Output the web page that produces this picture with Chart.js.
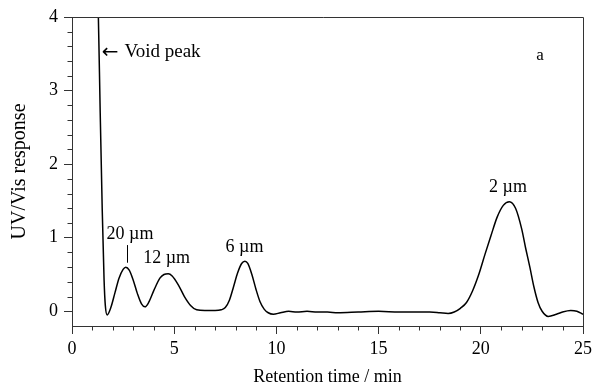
<!DOCTYPE html>
<html>
<head>
<meta charset="utf-8">
<script src="https://cdn.jsdelivr.net/npm/chart.js@4/dist/chart.umd.min.js"></script>
<style>
  html, body { margin: 0; padding: 0; background: #fff; }
  #wrap { width: 605px; height: 386px; position: relative; }
</style>
</head>
<body>
<div id="wrap"><canvas id="c"></canvas></div>
<script>
// ---- data ----
const timeMin = [1.22, 1.29, 1.38, 1.48, 1.57, 1.63, 1.72, 1.9, 2.1, 2.3, 2.5, 2.63, 2.8, 3.0, 3.2, 3.4, 3.57,
  3.75, 4.0, 4.3, 4.5, 4.71, 4.9, 5.2, 5.5, 5.8, 6.1, 6.5, 7.0, 7.3, 7.5, 7.7, 7.9, 8.1, 8.3, 8.46, 8.6,
  8.8, 9.0, 9.2, 9.4, 9.6, 9.85, 10.2, 10.6, 11.0, 11.5, 12.0, 12.5, 13.0, 14.0, 15.0, 16.0, 17.0, 17.5,
  18.0, 18.4, 18.7, 19.0, 19.3, 19.6, 19.9, 20.2, 20.5, 20.8, 21.1, 21.4, 21.7, 22.0, 22.2, 22.4, 22.6,
  22.8, 23.0, 23.3, 23.7, 24.0, 24.4, 24.7, 25.0];
const response = [4.6, 4.0, 2.7, 1.37, 0.42, 0.08, -0.05, 0.05, 0.25, 0.45, 0.57, 0.60, 0.56, 0.42, 0.24, 0.10, 0.06,
  0.12, 0.28, 0.45, 0.50, 0.51, 0.48, 0.36, 0.20, 0.08, 0.02, 0.01, 0.01, 0.02, 0.05, 0.15, 0.33, 0.52, 0.65, 0.68, 0.65,
  0.50, 0.30, 0.13, 0.03, -0.02, -0.04, -0.02, 0.00, -0.01, 0.00, -0.01, -0.01, -0.02, -0.01, 0.00, -0.01, -0.01, -0.01,
  -0.02, -0.03, -0.01, 0.04, 0.12, 0.28, 0.50, 0.77, 1.03, 1.28, 1.44, 1.49, 1.40, 1.12, 0.85, 0.60, 0.33,
  0.12, 0.00, -0.07, -0.04, -0.01, 0.01, 0.00, -0.04];

const xTicks = [0, 5, 10, 15, 20, 25];
const yTicks = [0, 1, 2, 3, 4];
const xMinorStep = 1;
const yMinorStep = 0.2;

const peakLabels = ['20 µm', '12 µm', '6 µm', '2 µm'];
const peakLabelX = [2.84, 4.63, 8.44, 21.33];
const peakLabelY = [1.05, 0.72, 0.87, 1.69];
const leaderX = 2.67, leaderY = [0.9, 0.66];
const voidArrow = '←';
const voidLabel = 'Void peak';
const voidLabelPos = [1.45, 3.52];
const panelLabel = 'a';
const panelLabelPos = [22.9, 3.48];

const FONT = '"Liberation Serif", "Times New Roman", serif';
const AXIS_COLOR = '#333';

const points = timeMin.map((t, i) => ({ x: t, y: response[i] }));

const framePlugin = {
  id: 'frame',
  afterDraw(chart) {
    const { ctx, chartArea: a, scales: { x, y } } = chart;
    ctx.save();
    ctx.strokeStyle = AXIS_COLOR;
    ctx.lineWidth = 1;
    // top and right border
    ctx.beginPath();
    ctx.moveTo(a.left - 8, Math.round(a.top) + 0.5);
    ctx.lineTo(Math.round(a.right) + 0.5, Math.round(a.top) + 0.5);
    ctx.lineTo(Math.round(a.right) + 0.5, a.bottom);
    ctx.stroke();
    // minor ticks
    ctx.beginPath();
    for (let v = x.min; v <= x.max + 1e-9; v += xMinorStep) {
      if (xTicks.some(t => Math.abs(t - v) < 1e-6)) continue;
      const px = Math.round(x.getPixelForValue(v)) + 0.5;
      ctx.moveTo(px, a.bottom);
      ctx.lineTo(px, a.bottom + 4.5);
    }
    for (let k = 0; ; k++) {
      const v = -0.2 + k * yMinorStep;
      if (v > y.max + 1e-9) break;
      if (yTicks.some(t => Math.abs(t - v) < 1e-6) || Math.abs(v - y.min) < 1e-6) continue;
      const py = Math.round(y.getPixelForValue(v)) + 0.5;
      ctx.moveTo(a.left, py);
      ctx.lineTo(a.left - 4.5, py);
    }
    ctx.stroke();

    // annotations
    ctx.fillStyle = '#000';
    ctx.textBaseline = 'middle';
    ctx.font = '18px ' + FONT;
    ctx.textAlign = 'center';
    peakLabels.forEach((s, i) => {
      ctx.fillText(s, x.getPixelForValue(peakLabelX[i]), y.getPixelForValue(peakLabelY[i]));
    });
    ctx.textAlign = 'left';
    const vx = x.getPixelForValue(voidLabelPos[0]);
    const vy = y.getPixelForValue(voidLabelPos[1]);
    ctx.font = '20px "DejaVu Sans", sans-serif';
    ctx.fillText(voidArrow, vx, vy);
    const aw = ctx.measureText(voidArrow).width;
    ctx.font = '19px ' + FONT;
    ctx.fillText(voidLabel, vx + aw + 6, vy);
    ctx.font = '17px ' + FONT;
    ctx.textAlign = 'center';
    ctx.fillText(panelLabel, x.getPixelForValue(panelLabelPos[0]), y.getPixelForValue(panelLabelPos[1]));
    // leader line for 20 µm
    ctx.strokeStyle = '#000';
    ctx.beginPath();
    const lx = Math.round(x.getPixelForValue(leaderX)) + 0.5;
    ctx.moveTo(lx, y.getPixelForValue(leaderY[0]));
    ctx.lineTo(lx, y.getPixelForValue(leaderY[1]));
    ctx.stroke();
    ctx.restore();
  }
};

new Chart(document.getElementById('c'), {
  type: 'line',
  data: {
    datasets: [{
      data: points,
      borderColor: '#000',
      borderWidth: 1.5,
      pointRadius: 0,
      fill: false,
      cubicInterpolationMode: 'monotone'
    }]
  },
  options: {
    responsive: true,
    maintainAspectRatio: false,
    animation: false,
    events: [],
    layout: { padding: { top: 17, right: 22, left: 0, bottom: 0 } },
    plugins: { legend: { display: false }, tooltip: { enabled: false } },
    scales: {
      x: {
        type: 'linear',
        min: 0, max: 25,
        afterBuildTicks(scale) { scale.ticks = xTicks.map(v => ({ value: v })); },
        afterFit(scale) { scale.height = 60; },
        grid: { display: true, drawOnChartArea: false, drawTicks: true, tickLength: 8, color: AXIS_COLOR, tickColor: AXIS_COLOR },
        border: { display: true, color: AXIS_COLOR, width: 1 },
        ticks: { color: '#000', font: { family: FONT, size: 18 }, padding: 4, maxRotation: 0 },
        title: { display: true, text: 'Retention time / min', color: '#000', font: { family: FONT, size: 18, lineHeight: 1 }, padding: { top: 0, bottom: 0 } }
      },
      y: {
        type: 'linear',
        min: -0.2, max: 4,
        afterBuildTicks(scale) { scale.ticks = yTicks.map(v => ({ value: v })); },
        afterFit(scale) { scale.width = 72; },
        grid: { display: true, drawOnChartArea: false, drawTicks: true, tickLength: 8, color: AXIS_COLOR, tickColor: AXIS_COLOR },
        border: { display: true, color: AXIS_COLOR, width: 1 },
        ticks: { color: '#000', font: { family: FONT, size: 18 }, padding: 6 },
        title: { display: true, text: 'UV/Vis response', color: '#000', font: { family: FONT, size: 20, lineHeight: 1 }, padding: { top: 10, bottom: 0 } }
      }
    }
  },
  plugins: [framePlugin]
});
</script>
</body>
</html>
